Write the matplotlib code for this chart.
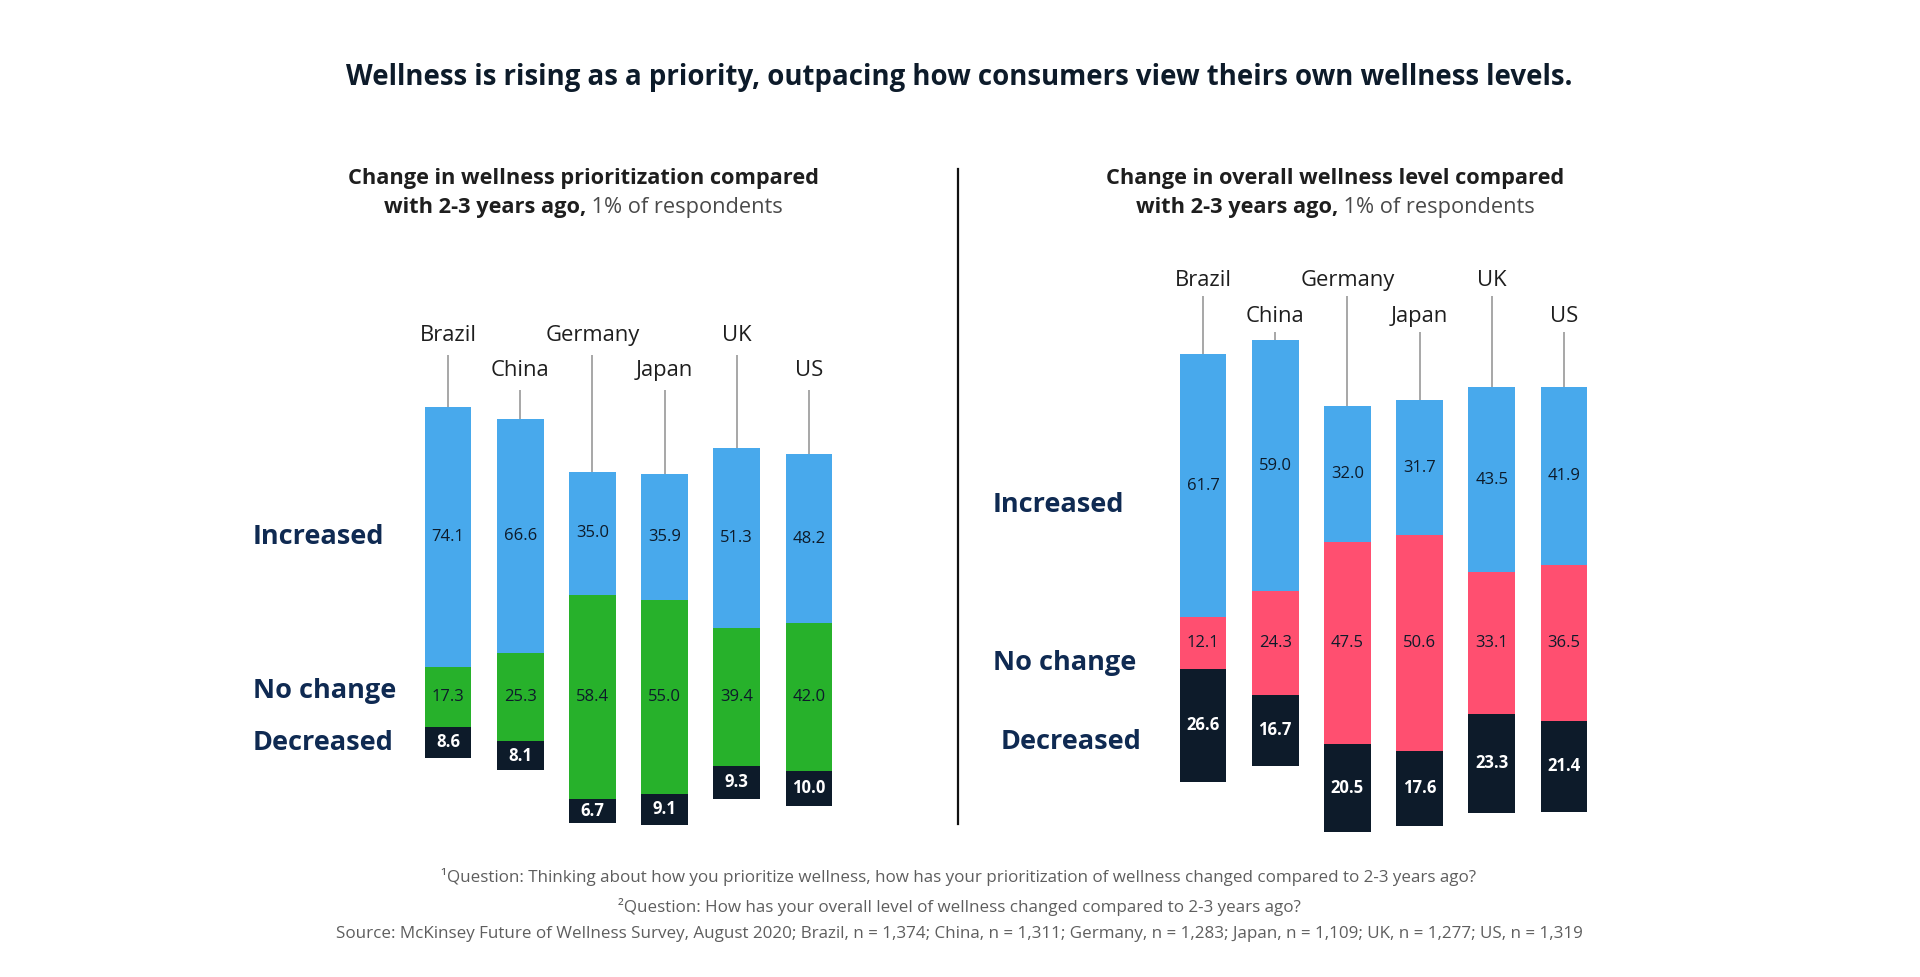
import matplotlib
matplotlib.use("Agg")
import matplotlib.pyplot as plt
from matplotlib.lines import Line2D
import numpy as np

plt.rcParams['font.family'] = ['Open Sans', 'DejaVu Sans']

# ---------------- data ----------------
countries = ["Brazil", "China", "Germany", "Japan", "UK", "US"]
prio_increased = [74.1, 66.6, 35.0, 35.9, 51.3, 48.2]
prio_nochange = [17.3, 25.3, 58.4, 55.0, 39.4, 42.0]
prio_decreased = [8.6, 8.1, 6.7, 9.1, 9.3, 10.0]
level_increased = [61.7, 59.0, 32.0, 31.7, 43.5, 41.9]
level_nochange = [12.1, 24.3, 47.5, 50.6, 33.1, 36.5]
level_decreased = [26.6, 16.7, 20.5, 17.6, 23.3, 21.4]
row_labels = ["Increased", "No change", "Decreased"]

title = "Wellness is rising as a priority, outpacing how consumers view theirs own wellness levels."
left_sub1 = "Change in wellness prioritization compared"
right_sub1 = "Change in overall wellness level compared"
sub2_bold = "with 2-3 years ago,"
sub2_reg = " 1% of respondents"
footnotes = [
    "\u00b9Question: Thinking about how you prioritize wellness, how has your prioritization of wellness changed compared to 2-3 years ago?",
    "\u00b2Question: How has your overall level of wellness changed compared to 2-3 years ago?",
    "Source: McKinsey Future of Wellness Survey, August 2020; Brazil, n = 1,374; China, n = 1,311; Germany, n = 1,283; Japan, n = 1,109; UK, n = 1,277; US, n = 1,319",
]

# ---------------- style ----------------
BLUE = "#48A9EC"
GREEN = "#27B12B"
PINK = "#FF4F70"
DARK = "#0D1B2A"
NAVY = "#0F2A52"
TXT = "#1E1E1E"

W, H = 1920, 977
fig = plt.figure(figsize=(W / 100, H / 100), dpi=100)
fig.patch.set_facecolor("white")


def rect(left, top, w, h):
    return [left / W, 1 - (top + h) / H, w / W, h / H]


def fx(px):
    return px / W


def fy(py):
    return 1 - py / H


def draw_panel(ax, inc, nc, dec, mid_color, lab_hi, lab_lo, gap, row_pos, ylim):
    inc = np.asarray(inc)
    nc = np.asarray(nc)
    dec = np.asarray(dec)
    x = np.arange(len(countries))
    half = nc / 2
    bw = 0.65
    ax.bar(x, nc, bottom=-half, width=bw, color=mid_color, zorder=2)
    ax.bar(x, inc, bottom=half, width=bw, color=BLUE, zorder=2)
    ax.bar(x, dec, bottom=-half - dec, width=bw, color=DARK, zorder=2)
    for i in range(len(x)):
        ax.text(x[i], half[i] + inc[i] / 2, f"{inc[i]:.1f}", ha="center", va="center",
                fontsize=12, color=DARK, zorder=3)
        ax.text(x[i], 0, f"{nc[i]:.1f}", ha="center", va="center",
                fontsize=12, color=DARK, zorder=3)
        ax.text(x[i], -half[i] - dec[i] / 2, f"{dec[i]:.1f}", ha="center", va="center",
                fontsize=12, color="white", fontweight="bold", zorder=3)
        ly = lab_hi if i % 2 == 0 else lab_lo
        ax.text(x[i], ly, countries[i], ha="center", va="center", fontsize=15.8,
                color=TXT, zorder=3)
        ax.plot([x[i], x[i]], [ly - gap, half[i] + inc[i]], color="#A0A0A0",
                lw=1.3, zorder=1, solid_capstyle="butt")
    for lab, (rx, ry) in zip(row_labels, row_pos):
        ax.text(rx, ry, lab, ha="left", va="center", fontsize=19.5,
                fontweight="bold", color=NAVY, clip_on=False)
    ax.set_xlim(-0.5, len(countries) - 0.5)
    ax.set_ylim(*ylim)
    ax.axis("off")


# left panel: bar 0 centre at 448 px, spacing 72.2 px, centre y 697 px, 3.51 px/unit
sp = 72.2
lsc = 3.51
ax1 = fig.add_axes(rect(448 - sp / 2, 697 - 110 * lsc, 6 * sp, 160 * lsc))
lx = -0.5 + (253 - (448 - sp / 2)) / sp
draw_panel(ax1, prio_increased, prio_nochange, prio_decreased, GREEN,
           103.0, 93.0, 5.6,
           [(lx, 45.7), (lx, 1.8), (lx, -13.2)],
           (-50, 110))

# right panel: bar 0 centre at 1203 px, centre y 643 px, 4.26 px/unit
rsc = 4.26
ax2 = fig.add_axes(rect(1203 - sp / 2, 643 - 95 * rsc, 6 * sp, 145 * rsc))
rx0 = 1203 - sp / 2
draw_panel(ax2, level_increased, level_nochange, level_decreased, PINK,
           85.2, 76.7, 3.8,
           [(-0.5 + (993 - rx0) / sp, 32.5),
            (-0.5 + (993 - rx0) / sp, -4.6),
            (-0.5 + (1001 - rx0) / sp, -23.3)],
           (-50, 95))

# divider
fig.add_artist(Line2D([fx(957.6), fx(957.6)], [fy(169), fy(824)], color="#111111", lw=1.6))

# title
fig.text(fx(959), fy(77.5), title, ha="center", va="center", fontsize=19.9,
         fontweight="bold", color=DARK)

# subtitles
renderer = fig.canvas.get_renderer()


def subtitle(cx, line1):
    fig.text(fx(cx), fy(178.5), line1, ha="center", va="center", fontsize=15.7,
             fontweight="bold", color=TXT)
    t1 = fig.text(0, fy(207), sub2_bold, ha="left", va="center", fontsize=15.7,
                  fontweight="bold", color=TXT)
    t2 = fig.text(0, fy(207), sub2_reg, ha="left", va="center", fontsize=15.7,
                  color="#4A4A4A")
    w1 = t1.get_window_extent(renderer).width
    w2 = t2.get_window_extent(renderer).width
    x0 = cx - (w1 + w2) / 2
    t1.set_x(fx(x0))
    t2.set_x(fx(x0 + w1))


subtitle(583, left_sub1)
subtitle(1335, right_sub1)

# footnotes
for txt, y in zip(footnotes, [877, 906.5, 933.5]):
    fig.text(fx(959), fy(y), txt, ha="center", va="center", fontsize=12.25,
             color="#5E5E5E")

fig.savefig("out.png", dpi=100, facecolor="white")
